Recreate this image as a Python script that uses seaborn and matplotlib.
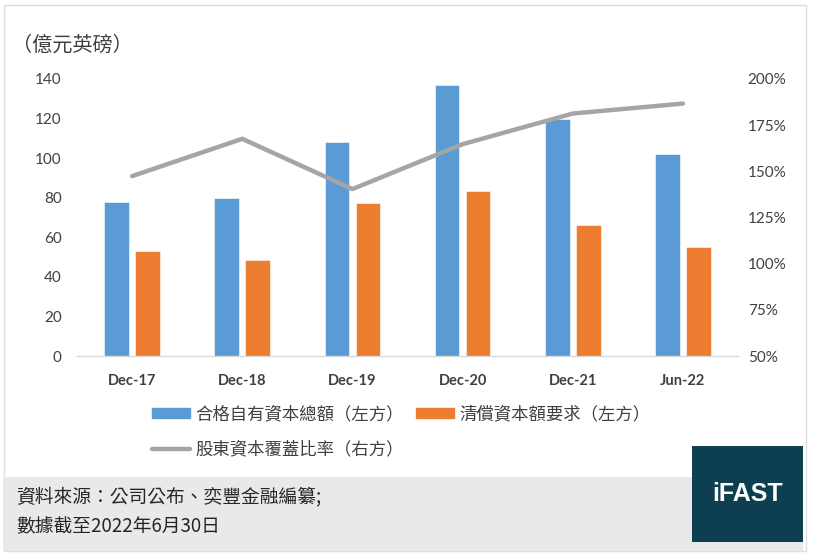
import numpy as np
import pandas as pd
import seaborn as sns
import matplotlib.pyplot as plt
from matplotlib.patches import Rectangle, Patch
from matplotlib.lines import Line2D
from matplotlib.ticker import PercentFormatter

# data
periods = ['Dec-17', 'Dec-18', 'Dec-19', 'Dec-20', 'Dec-21', 'Jun-22']
own_funds = [78, 80, 108, 137, 120, 102]          # 合格自有資本總額
scr = [53, 48.4, 77.5, 83.5, 66, 55.2]            # 清償資本額要求
cover_ratio = [147.4, 167.6, 140.4, 164.7, 181.3, 186.7]  # 股東資本覆蓋比率 (%)

lbl_own = '合格自有資本總額（左方）'
lbl_scr = '清償資本額要求（左方）'
lbl_ratio = '股東資本覆蓋比率（右方）'

blue = '#5b9bd5'
orange = '#ed7d31'
grey = '#a5a5a5'
txt = '#404040'
cjk = ['Noto Sans CJK TC', 'DejaVu Sans']

sns.set_theme(style='white')
plt.rcParams['font.family'] = ['Lato', 'Noto Sans CJK TC', 'DejaVu Sans']

bars = pd.DataFrame({
    'period': periods * 2,
    'value': own_funds + scr,
    'series': ['own'] * len(periods) + ['scr'] * len(periods),
})
line = pd.DataFrame({'pos': np.arange(len(periods)), 'ratio': cover_ratio})

W, H = 813, 559
fig = plt.figure(figsize=(W / 100, H / 100), dpi=100)

# card, footer band and logo box
fig.patches.append(Rectangle((4 / W, 1 - 551 / H), 802 / W, 546 / H, transform=fig.transFigure,
                             facecolor='white', edgecolor='#dddddd', lw=1, zorder=-5))
fig.patches.append(Rectangle((3 / W, 1 - 551 / H), 800 / W, 74 / H, transform=fig.transFigure,
                             facecolor='#e9e9e9', edgecolor='none', zorder=1))
fig.patches.append(Rectangle((692 / W, 1 - 542 / H), 111 / W, 96 / H, transform=fig.transFigure,
                             facecolor='#0e3f50', edgecolor='none', zorder=2))
fig.text(747.5 / W, 1 - 494 / H, 'iFAST', color='white', fontsize=18, fontweight='bold',
         family='Liberation Sans', ha='center', va='center', zorder=3)

ax = fig.add_axes([77 / W, 1 - 356 / H, 661 / W, 277 / H])
ax.set_facecolor('none')
sns.barplot(data=bars, x='period', y='value', hue='series', palette=[blue, orange],
            width=0.56, gap=0.2, saturation=1, ax=ax, legend=False,
            edgecolor='white', linewidth=0.4)
ax.set_xlim(-0.5, len(periods) - 0.5)
ax.set_ylim(0, 140)
ax.set_yticks(range(0, 141, 20))
ax.set_xlabel('')
ax.set_ylabel('')
for s in ['top', 'right', 'left']:
    ax.spines[s].set_visible(False)
ax.spines['bottom'].set_color('#d9d9d9')
ax.spines['bottom'].set_linewidth(1)
ax.tick_params(axis='y', length=0, pad=11, labelsize=11, labelcolor=txt)
ax.tick_params(axis='x', length=0, pad=13, labelsize=10.5, labelcolor=txt)
for t in ax.get_xticklabels():
    t.set_fontweight('bold')

ax2 = ax.twinx()
sns.lineplot(data=line, x='pos', y='ratio', color=grey, lw=3.2, ax=ax2)
ax2.set_ylim(50, 200)
ax2.set_yticks(range(50, 201, 25))
ax2.yaxis.set_major_formatter(PercentFormatter(decimals=0))
ax2.set_ylabel('')
for s in ax2.spines.values():
    s.set_visible(False)
ax2.tick_params(axis='y', length=0, pad=7, labelsize=11, labelcolor=txt)

fig.text(12 / W, 1 - 45 / H, '（億元英磅）', fontsize=14.5, color=txt, family=cjk,
         ha='left', va='center')

handles = [Patch(color=blue), Line2D([], [], color=grey, lw=3.2), Patch(color=orange)]
labels = [lbl_own, lbl_ratio, lbl_scr]
fig.legend(handles, labels, ncol=2, loc='upper left', bbox_to_anchor=(152 / W, 1 - 405 / H),
           frameon=False, borderpad=0, borderaxespad=0, handlelength=2.2, handleheight=0.55,
           handletextpad=0.3, columnspacing=0.7, labelspacing=1.0,
           prop={'family': cjk, 'size': 12.5}, labelcolor=txt)

fig.text(16 / W, 1 - 497 / H, '資料來源：公司公布、奕豐金融編纂;', fontsize=13.5, color='#262626',
         family=cjk, ha='left', va='center', zorder=3)
fig.text(16 / W, 1 - 527 / H, '數據截至2022年6月30日', fontsize=13.5, color='#262626',
         family=cjk, ha='left', va='center', zorder=3)

fig.savefig('out.png', dpi=100, facecolor='white')
